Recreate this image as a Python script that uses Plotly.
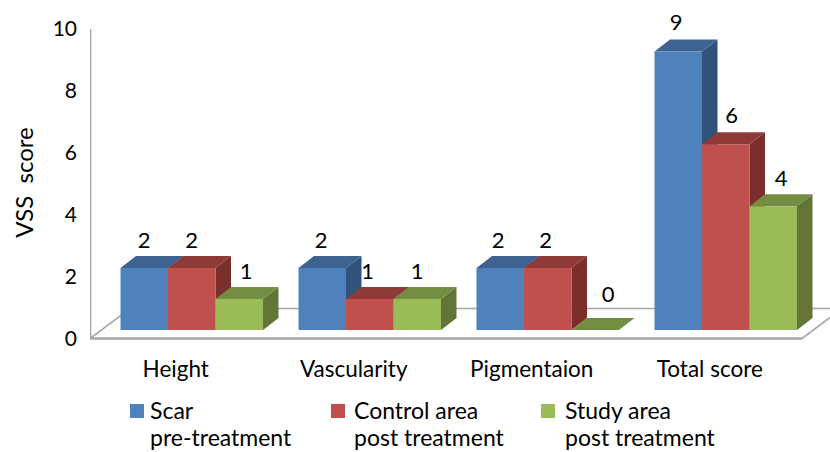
import plotly.graph_objects as go

categories = ["Height", "Vascularity", "Pigmentaion", "Total score"]
scar_pre = [2, 2, 2, 9]
control_post = [2, 1, 2, 6]
study_post = [1, 1, 0, 4]
series_values = [scar_pre, control_post, study_post]
y_ticks = [0, 2, 4, 6, 8, 10]
legend_lines = [["Scar", "pre-treatment"], ["Control area", "post treatment"], ["Study area", "post treatment"]]

FRONT = ["#4F81BD", "#C0504D", "#9BBB59"]
TOP = ["#3E6390", "#8E3A38", "#748D42"]
SIDE = ["#31527A", "#7B2F2D", "#627537"]
FONT = "Lato"
INK = "#000000"
AXIS = "#a6a6a6"

W, H = 830, 452
L, R, T, B = 90, 0, 20, 107
PX_X = 178.0           # pixels per category
PX_Y = 30.95           # pixels per unit
X0 = (120.5 + 71.25 - L) / PX_X
x_range = [-X0, (W - L) / PX_X - X0]
y_range = [(338.5 - (H - B)) / PX_Y, (338.5 - T) / PX_Y]
BAR_W = 47.5 / PX_X
DX = 15.5 / PX_X
DY = 12.0 / PX_Y
FLOOR = 8.5 / PX_Y

# pixel nudges for the value labels (x) per series and category
label_dx = [[0, -1, -2, -2], [0, -2, -2, 6], [7, 0, 13, 8]]
label_dy = [[26, 26, 26, 27], [26, 26, 26, 27], [26, 26, 34, 26]]


def bar_polys(vals, s):
    fx, fy, sx, sy, tx, ty = [], [], [], [], [], []
    for i, v in enumerate(vals):
        x0 = i - 1.5 * BAR_W + s * BAR_W
        x1 = x0 + BAR_W
        y0 = FLOOR
        y1 = FLOOR + v
        fx += [x0, x1, x1, x0, x0, None]
        fy += [y0, y0, y1, y1, y0, None]
        sx += [x1, x1 + DX, x1 + DX, x1, x1, None]
        sy += [y0, y0 + DY, y1 + DY, y1, y0, None]
        tx += [x0, x1, x1 + DX, x0 + DX, x0, None]
        ty += [y1, y1, y1 + DY, y1 + DY, y1, None]
    return (fx, fy), (sx, sy), (tx, ty)


fig = go.Figure()

# floor and axis lines, built from the axis scale
left_x = x_range[0]
front_right = left_x + (802 - L) / PX_X
back_dx = 40 / PX_X
back_dy = 30 / PX_Y
fig.add_trace(go.Scatter(x=[left_x, left_x + back_dx, x_range[1] + 0.2], y=[0, back_dy, back_dy],
                         mode="lines", line=dict(color=AXIS, width=1.6), hoverinfo="skip"))
fig.add_trace(go.Scatter(x=[front_right, front_right + back_dx], y=[0, back_dy],
                         mode="lines", line=dict(color=AXIS, width=1.6), hoverinfo="skip"))
fig.add_trace(go.Scatter(x=[left_x, front_right], y=[0, 0],
                         mode="lines", line=dict(color=AXIS, width=2.6), hoverinfo="skip"))
fig.add_trace(go.Scatter(x=[left_x, left_x], y=[0, 10],
                         mode="lines", line=dict(color=AXIS, width=2.6), hoverinfo="skip",
                         cliponaxis=False))

names = [" ".join(n) for n in legend_lines]
for s, vals in enumerate(series_values):
    front, side, top = bar_polys(vals, s)
    for (qx, qy), col in ((side, SIDE[s]), (top, TOP[s]), (front, FRONT[s])):
        fig.add_trace(go.Scatter(x=qx, y=qy, mode="lines", fill="toself", fillcolor=col,
                                 line=dict(width=0, color=col), name=names[s], hoverinfo="skip"))

for s, vals in enumerate(series_values):
    xs = [i - 1.5 * BAR_W + s * BAR_W + BAR_W / 2 + label_dx[s][i] / PX_X for i in range(len(vals))]
    ys = [FLOOR + v + label_dy[s][i] / PX_Y for i, v in enumerate(vals)]
    fig.add_trace(go.Scatter(x=xs, y=ys, mode="text", text=[str(v) for v in vals],
                             textposition="middle center", cliponaxis=False,
                             textfont=dict(family=FONT, size=22, color=INK), hoverinfo="skip"))


def px(x):
    return (x - L) / (W - L - R)


def py(y):
    return 1 - (y - T) / (H - T - B)


annotations = []
shapes = []
swatch_x = [130, 331, 541]
text_x = [148, 352, 563]
line_y = [409.5, 437]
for s, lines in enumerate(legend_lines):
    shapes.append(dict(type="rect", xref="paper", yref="paper", x0=px(swatch_x[s]), x1=px(swatch_x[s] + 14),
                       y0=py(404), y1=py(418), fillcolor=FRONT[s], line=dict(width=0)))
    for j, line in enumerate(lines):
        annotations.append(dict(text=line, xref="paper", yref="paper", x=px(text_x[s]), y=py(line_y[j]),
                                xanchor="left", yanchor="middle", showarrow=False,
                                font=dict(family=FONT, size=23, color=INK)))

fig.update_layout(
    width=W, height=H, autosize=False,
    margin=dict(l=L, r=R, t=T, b=B, pad=0),
    paper_bgcolor="white", plot_bgcolor="white",
    showlegend=False, shapes=shapes, annotations=annotations,
    xaxis=dict(range=x_range, showgrid=False, zeroline=False, showline=False,
               tickmode="array", tickvals=[i - 16 / PX_X for i in range(len(categories))],
               ticktext=categories, ticks="", ticklabelstandoff=8,
               tickfont=dict(family=FONT, size=22.5, color=INK)),
    yaxis=dict(range=y_range, showgrid=False, zeroline=False, showline=False,
               tickmode="array", tickvals=y_ticks, ticktext=[str(t) for t in y_ticks],
               ticks="", ticklabelstandoff=12,
               tickfont=dict(family=FONT, size=21, color=INK),
               title=dict(text="VSS\u00a0\u00a0score", standoff=12,
                          font=dict(family=FONT, size=24, color=INK))),
)

fig.write_html("out.html", config=dict(displayModeBar=False),
               post_script="document.body.style.margin='0';document.documentElement.style.overflow='hidden';")
